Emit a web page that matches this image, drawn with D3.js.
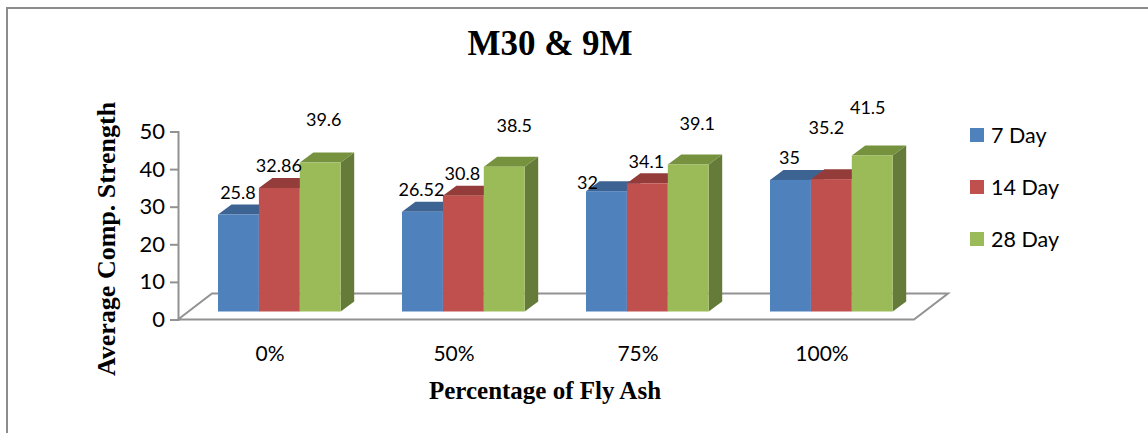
<!DOCTYPE html>
<html>
<head>
<meta charset="utf-8">
<script src="https://cdn.jsdelivr.net/npm/d3@7"></script>
<style>
  html, body { margin: 0; padding: 0; background: #fff; }
  svg { display: block; }
  .sans { font-family: Lato, "Open Sans", sans-serif; fill: #000; }
  .serif { font-family: "Liberation Serif", serif; font-weight: bold; fill: #000; }
</style>
</head>
<body>
<div id="chart"></div>
<script>
const categories = ["0%", "50%", "75%", "100%"];
const seriesNames = ["7 Day", "14 Day", "28 Day"];
const day7 = [25.8, 26.52, 32, 35];
const day14 = [32.86, 30.8, 34.1, 35.2];
const day28 = [39.6, 38.5, 39.1, 41.5];
const yTicks = [0, 10, 20, 30, 40, 50];
const allSeries = [day7, day14, day28];

// Data labels were positioned by hand, so each carries its own shift from the bar's top centre.
const labelShift = [
  [[-0.5, -22], [-0.5, -23], [3.5, -43.5]],
  [[-1, -23], [-1, -23], [10, -42]],
  [[-19, -9], [-1, -22], [9, -41.5]],
  [[-1, -23], [-5, -52], [-4.5, -48.5]]
];

const width = 1148, height = 433;
const colors = [
  { front: "#4f81bd", top: "#3c6392", side: "#3c6392" },
  { front: "#c0504d", top: "#943c3a", side: "#943c3a" },
  { front: "#9bbb59", top: "#76923f", side: "#657b39" }
];
const depth = { x: 13.5, y: -10 };
const floorDepth = { x: 34, y: -26 };
const barBaseLift = 8;

const svg = d3.select("#chart").append("svg")
  .attr("width", width).attr("height", height);

// Enclosing frame, open on the right and bottom
svg.append("path")
  .attr("d", "M7,433V8H1148")
  .attr("fill", "none").attr("stroke", "#8c8c8c").attr("stroke-width", 2);

const y = d3.scaleLinear().domain([0, 50]).range([319.5, 131.5]);
const x0 = d3.scaleBand().domain(categories).range([178, 914]);
const barStep = 40.9;
const x1 = d3.scaleBand().domain(d3.range(3)).range([40, 40 + barStep * 3]);

// Floor of the 3D plot
svg.append("path")
  .attr("d", `M${x0.range()[0]},${y(0)} L${x0.range()[0] + floorDepth.x},${y(0) + floorDepth.y} H${x0.range()[1] + floorDepth.x} L${x0.range()[1]},${y(0)} Z`)
  .attr("fill", "none").attr("stroke", "#929292").attr("stroke-width", 2);

// Value axis
const yAxis = svg.append("g").attr("transform", `translate(${x0.range()[0]},0)`)
  .call(d3.axisLeft(y).tickValues(yTicks).tickSize(8).tickPadding(5).tickFormat(d3.format("d")));
yAxis.selectAll("path, line").attr("stroke", "#929292").attr("stroke-width", 2);
yAxis.selectAll("text").attr("class", "sans").style("font-size", "22px");

// Bars, drawn left to right so each one overlaps the side of the previous
categories.forEach((cat, i) => {
  allSeries.forEach((values, s) => {
    const v = values[i];
    const left = x0(cat) + x1(s);
    const right = left + x1.bandwidth();
    const top = y(v) - barBaseLift;
    const base = y(0) - barBaseLift;
    const c = colors[s];
    const g = svg.append("g");
    g.append("path")
      .attr("d", `M${right},${top} l${depth.x},${depth.y} V${base + depth.y} L${right},${base} Z`)
      .attr("fill", c.side);
    g.append("path")
      .attr("d", `M${left},${top} l${depth.x},${depth.y} H${right + depth.x} L${right},${top} Z`)
      .attr("fill", c.top);
    g.append("rect")
      .attr("x", left).attr("y", top)
      .attr("width", x1.bandwidth()).attr("height", base - top)
      .attr("fill", c.front);
  });
});

// Data labels
categories.forEach((cat, i) => {
  allSeries.forEach((values, s) => {
    const v = values[i];
    const cx = x0(cat) + x1(s) + x1.bandwidth() / 2;
    const [dx, dy] = labelShift[i][s];
    svg.append("text").attr("class", "sans")
      .attr("x", cx + dx).attr("y", y(v) - barBaseLift + dy)
      .attr("text-anchor", "middle").attr("dominant-baseline", "central")
      .style("font-size", "18px").text(v);
  });
});

// Category labels
svg.selectAll(".cat").data(categories).join("text")
  .attr("class", "sans")
  .attr("x", d => x0(d) + x0.bandwidth() / 2)
  .attr("y", 352).attr("text-anchor", "middle").attr("dominant-baseline", "central")
  .style("font-size", "21px").text(d => d);

// Titles
svg.append("text").attr("class", "serif").attr("x", 550).attr("y", 55)
  .attr("text-anchor", "middle")
  .style("font-size", "35px").text("M30 & 9M");
svg.append("text").attr("class", "serif").attr("x", 545).attr("y", 399)
  .attr("text-anchor", "middle")
  .style("font-size", "25px").text("Percentage of Fly Ash");
svg.append("text").attr("class", "serif")
  .attr("transform", "translate(115,239) rotate(-90)")
  .attr("text-anchor", "middle")
  .style("font-size", "26px").text("Average Comp. Strength");

// Legend
seriesNames.forEach((name, s) => {
  const ly = 135 + s * 52;
  svg.append("rect").attr("x", 970).attr("y", ly - 7)
    .attr("width", 14).attr("height", 14).attr("fill", colors[s].front);
  svg.append("text").attr("class", "sans").attr("x", 991).attr("y", ly)
    .attr("dominant-baseline", "central").style("font-size", "21.5px").text(name);
});
</script>
</body>
</html>
